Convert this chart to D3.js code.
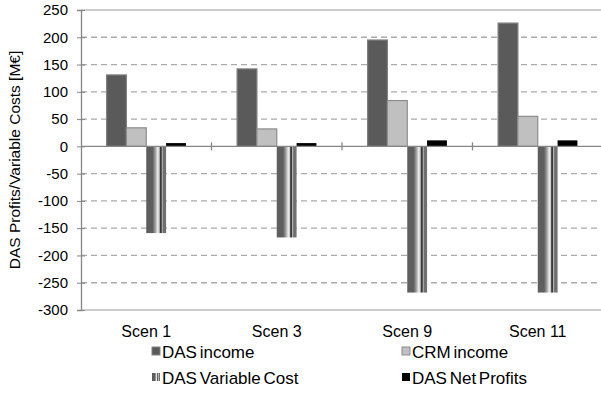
<!DOCTYPE html>
<html>
<head>
<meta charset="utf-8">
<script src="https://cdn.jsdelivr.net/npm/d3@7"></script>
<style>
  body { margin: 0; background: #fff; }
  text { font-family: "Liberation Sans", Arial, sans-serif; fill: #000; }
</style>
</head>
<body>
<script>
// chart data
var scenarios = ["Scen 1", "Scen 3", "Scen 9", "Scen 11"];
var seriesNames = ["DAS income", "CRM income", "DAS Variable Cost", "DAS Net Profits"];
var dasIncome = [131, 142, 195, 226];
var crmIncome = [34, 32, 84, 55];
var dasVarCost = [-159, -167, -268, -268];
var dasNetProfits = [6, 6, 11, 11];
var yTicks = [250, 200, 150, 100, 50, 0, -50, -100, -150, -200, -250, -300];

var allSeries = [dasIncome, crmIncome, dasVarCost, dasNetProfits];

var width = 601, height = 407;
var plotL = 81, plotR = 603, plotT = 10, plotB = 310;

var svg = d3.select("body").append("svg")
    .attr("width", width)
    .attr("height", height);

// stripy fill for the variable cost bars
var grad = svg.append("defs").append("linearGradient")
    .attr("id", "vc")
    .attr("x1", "0%").attr("x2", "100%")
    .attr("y1", "0%").attr("y2", "0%");
[["0%", "#5e5e5e"], ["32%", "#5e5e5e"], ["46%", "#a0a0a0"], ["58%", "#eeeeee"],
 ["66%", "#c4c4c4"], ["70%", "#3a3a3a"], ["76%", "#3a3a3a"], ["80%", "#c8c8c8"],
 ["85%", "#707070"], ["100%", "#707070"]].forEach(function(s) {
    grad.append("stop").attr("offset", s[0]).attr("stop-color", s[1]);
});

var fills = ["#5a5a5a", "#c0c0c0", "url(#vc)", "#000"];
var strokes = ["#808080", "#8c8c8c", "none", "none"];

var y = d3.scaleLinear().domain([-300, 250]).range([plotB, plotT]);
var x = d3.scaleBand().domain(scenarios).range([plotL, plotR]);
var inner = d3.scaleBand().domain(d3.range(4)).range([0, x.bandwidth()]).paddingOuter(1.29).paddingInner(0);

// gridlines
svg.append("g").selectAll("line")
    .data(yTicks.filter(function(d) { return d != 0; }))
    .enter().append("line")
    .attr("x1", plotL).attr("x2", plotR)
    .attr("y1", function(d) { return y(d); })
    .attr("y2", function(d) { return y(d); })
    .attr("stroke", function(d) { return (d == 250 || d == -300) ? "#bdbdbd" : "#ababab"; })
    .attr("stroke-width", 1.3)
    .attr("stroke-dasharray", function(d) { return (d == 250 || d == -300) ? null : "6,4"; });

// bars
scenarios.forEach(function(sc, i) {
    allSeries.forEach(function(vals, k) {
        var v = vals[i];
        svg.append("rect")
            .attr("x", x(sc) + inner(k))
            .attr("y", y(Math.max(v, 0)))
            .attr("width", inner.bandwidth())
            .attr("height", Math.abs(y(v) - y(0)))
            .attr("fill", fills[k])
            .attr("stroke", strokes[k])
            .attr("stroke-width", 1.2);
    });
});

// y axis
var yAxis = d3.axisLeft(y).tickValues(yTicks).tickSize(4).tickPadding(10)
    .tickFormat(function(d) { return String(d); });
var gy = svg.append("g").attr("transform", "translate(" + plotL + ",0)").call(yAxis);
gy.select(".domain").attr("stroke", "#868686").attr("stroke-width", 1.3);
gy.selectAll(".tick line").attr("stroke", "#868686").attr("x2", 4).attr("x1", -4);
gy.selectAll("text").style("font-size", "15px").attr("x", -13);

// zero line with category ticks
svg.append("line")
    .attr("x1", plotL).attr("x2", plotR)
    .attr("y1", y(0)).attr("y2", y(0))
    .attr("stroke", "#868686").attr("stroke-width", 1.3);
svg.append("g").selectAll("line")
    .data(scenarios.slice(1))
    .enter().append("line")
    .attr("x1", function(d) { return x(d); })
    .attr("x2", function(d) { return x(d); })
    .attr("y1", y(0) - 4).attr("y2", y(0) + 4)
    .attr("stroke", "#868686").attr("stroke-width", 1.3);

// category labels
svg.append("g").selectAll("text")
    .data(scenarios)
    .enter().append("text")
    .attr("x", function(d) { return x(d) + x.bandwidth() / 2; })
    .attr("y", 337)
    .attr("text-anchor", "middle")
    .style("font-size", "16px")
    .text(function(d) { return d; });

// y title
svg.append("text")
    .attr("transform", "translate(20," + ((plotT + plotB) / 2) + ") rotate(-90)")
    .attr("text-anchor", "middle")
    .style("font-size", "15.5px")
    .text("DAS Profits/Variable Costs [M€]");

// legend
var legPos = [[152, 352], [402, 352], [152, 378], [402, 378]];
seriesNames.forEach(function(name, k) {
    var p = legPos[k];
    svg.append("rect")
        .attr("x", p[0]).attr("y", p[1] - 5)
        .attr("width", 8).attr("height", 8)
        .attr("fill", fills[k])
        .attr("stroke", strokes[k]);
    svg.append("text")
        .attr("x", p[0] + 10).attr("y", p[1] + 6)
        .style("font-size", "17px")
        .style("word-spacing", "-2px")
        .text(name);
});
</script>
</body>
</html>
